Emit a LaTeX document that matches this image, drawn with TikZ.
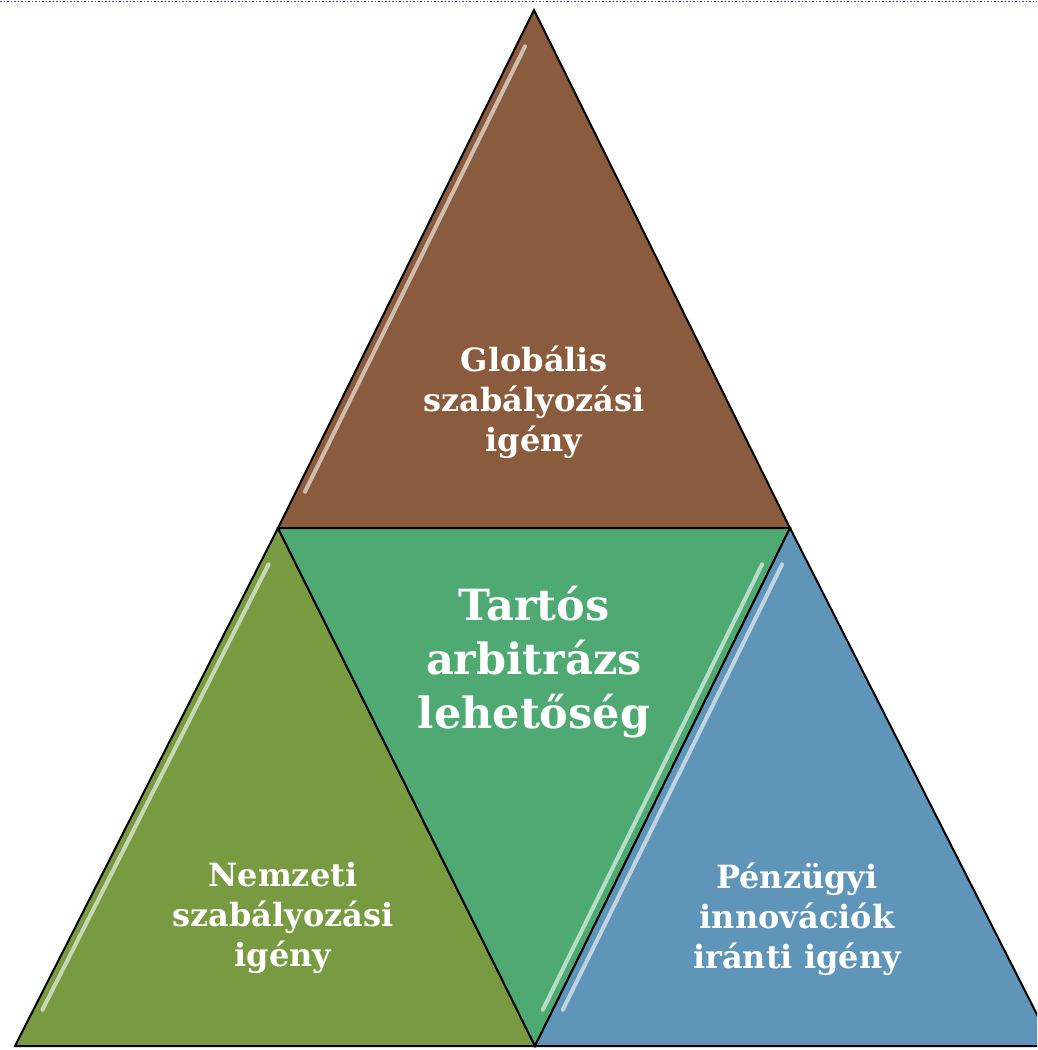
\documentclass[tikz,border=0pt]{standalone}
\usepackage{fontspec}
\setmainfont{DejaVu Serif}
\usepackage{xcolor}
\usepackage{tikz}
\usetikzlibrary{calc}
\definecolor{triTop}{HTML}{8A5B3C}
\definecolor{triLeft}{HTML}{789A41}
\definecolor{triMid}{HTML}{4EAA72}
\definecolor{triRight}{HTML}{5F95B9}
\definecolor{rimBlue}{HTML}{3A3AA8}
\tikzset{
  facet/.style={draw=black,line width=2pt,line join=miter},
  glint/.style={white,line width=4pt,opacity=.6,line cap=round},
  lbl/.style={text=white,font=\bfseries\fontsize{32}{40}\selectfont,align=center},
  lblbig/.style={text=white,font=\bfseries\fontsize{43}{54}\selectfont,align=center}
}
% filled triangle with a glossy stripe along one edge
\newcommand{\facet}[5]{%
  \fill[#1] (#2) -- (#3) -- (#4) -- cycle;
  \draw[glint] ($(#2)!.07!(#5)+(9,0)$) -- ($(#2)!.93!(#5)+(9,0)$);
  \draw[facet] (#2) -- (#3) -- (#4) -- cycle;
}
\begin{document}
\begin{tikzpicture}[x=1pt,y=-1pt]
\useasboundingbox (0,0) rectangle (1037,1050);
\clip (0,0) rectangle (1037,1050);
\draw[rimBlue,dotted,line width=1.5pt] (0,1.5) -- (1037,1.5);
\coordinate (apex) at (534,10);
\coordinate (jl) at (278,528);
\coordinate (jr) at (790,528);
\coordinate (bl) at (15,1046);
\coordinate (bm) at (535,1046);
\coordinate (br) at (1053,1046);
\facet{triTop}{apex}{jl}{jr}{jl}
\facet{triLeft}{jl}{bl}{bm}{bl}
\fill[triMid] (jl) -- (jr) -- (bm) -- cycle;
\draw[glint] ($(jr)!.07!(bm)+(-10,0)$) -- ($(jr)!.93!(bm)+(-10,0)$);
\draw[facet] (jl) -- (jr) -- (bm) -- cycle;
\fill[triRight] (jr) -- (bm) -- (br) -- cycle;
\draw[glint] ($(jr)!.07!(bm)+(10,0)$) -- ($(jr)!.93!(bm)+(10,0)$);
\draw[facet] (jr) -- (bm) -- (br) -- cycle;
\node[lbl] (global) at (534,402) {Globális\\szabályozási\\igény};
\node[lblbig] (arbitrage) at (534,662) {Tartós\\arbitrázs\\lehetőség};
\node[lbl] (national) at (283,918) {Nemzeti\\szabályozási\\igény};
\node[lbl] (innov) at (797,919) {Pénzügyi\\innovációk\\iránti igény};
\end{tikzpicture}
\end{document}
